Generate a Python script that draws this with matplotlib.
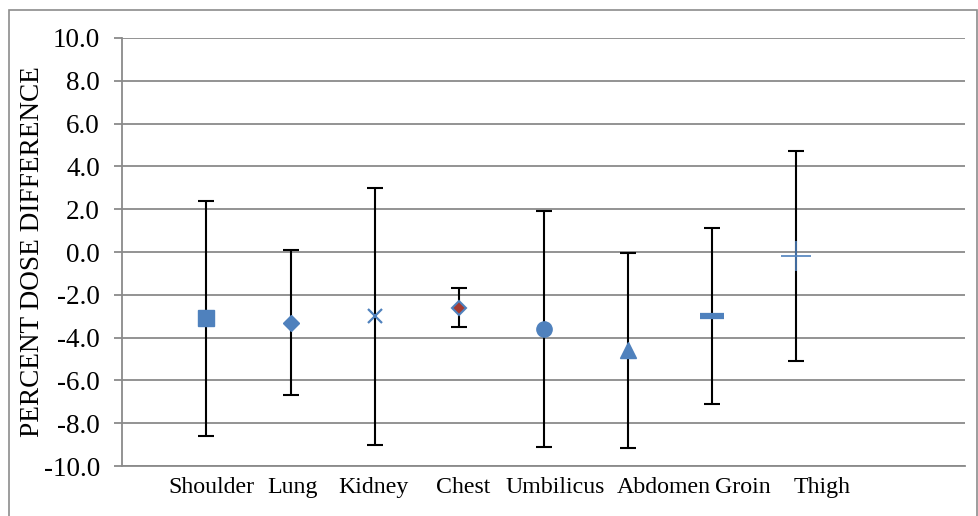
import matplotlib.pyplot as plt
from matplotlib.patches import Rectangle

plt.rcParams['font.family'] = ['Liberation Serif', 'DejaVu Serif']

sites = ['Shoulder', 'Lung', 'Kidney', 'Chest', 'Umbilicus', 'Abdomen', 'Groin', 'Thigh']
mean_diff = [-3.1, -3.3, -3.0, -2.6, -3.6, -4.6, -3.0, -0.2]
upper = [2.4, 0.1, 3.0, -1.7, 1.9, -0.05, 1.1, 4.7]
lower = [-8.6, -6.7, -9.0, -3.5, -9.1, -9.15, -7.1, -5.1]
# category labels sit a bit off the points in the original
label_pos = [1.06, 2.02, 2.98, 4.05, 5.14, 6.43, 7.37, 8.30]
yticks = [-10, -8, -6, -4, -2, 0, 2, 4, 6, 8, 10]

blue = '#4F81BD'
# marker style per site: (marker, size, face, edge, edge width)
styles = [
    ('s', 11, blue, blue, 1),
    ('D', 8, blue, blue, 1),
    ('x', 10, blue, blue, 1.6),
    ('D', 7.5, '#A63A31', blue, 1.5),
    ('o', 11, blue, blue, 1),
    ('^', 11, blue, blue, 1),
    ('_', 17, blue, blue, 4.5),
    ('+', 21, blue, blue, 1.2),
]

fig = plt.figure(figsize=(9.79, 5.16), dpi=100)
ax = fig.add_axes([122 / 979, 50 / 516, 843 / 979, 428 / 516])

fig.patches.append(Rectangle((9 / 979, -0.01), 968 / 979, 1.0 - 10 / 516 + 0.01,
                             transform=fig.transFigure, fill=False,
                             edgecolor='#8C8C8C', linewidth=1.2))

x = list(range(1, len(sites) + 1))
for i in range(len(sites)):
    ax.errorbar(x[i], mean_diff[i],
                yerr=[[mean_diff[i] - lower[i]], [upper[i] - mean_diff[i]]],
                fmt='none', ecolor='black', elinewidth=1.5, capsize=5.5,
                capthick=1.5, zorder=3)
    m, ms, fc, ec, mew = styles[i]
    ax.plot(x[i], mean_diff[i], marker=m, markersize=ms, markerfacecolor=fc,
            markeredgecolor=ec, markeredgewidth=mew, linestyle='none', zorder=4)

ax.set_xlim(0, 10)
ax.set_ylim(-10, 10)
ax.set_yticks(yticks)
ax.set_yticklabels([f'{v:.1f}' for v in yticks], fontsize=19.5)
ax.set_xticks([])
ax.grid(axis='y', color='#8A8A8A', linewidth=1.3)
ax.set_axisbelow(True)
ax.tick_params(axis='y', direction='out', length=6, width=1.3, color='#8A8A8A', pad=10)

for s in ['top', 'right']:
    ax.spines[s].set_visible(False)
for s in ['left', 'bottom']:
    ax.spines[s].set_color('#8A8A8A')
    ax.spines[s].set_linewidth(1.3)

for lx, name in zip(label_pos, sites):
    ax.text(lx, -11.0, name, ha='center', va='center', fontsize=17.2)

ax.set_ylabel('PERCENT DOSE DIFFERENCE', fontsize=19.6)
ax.yaxis.set_label_coords(-(122 - 45) / 843, 0.5)

fig.savefig('out.png', dpi=100)
